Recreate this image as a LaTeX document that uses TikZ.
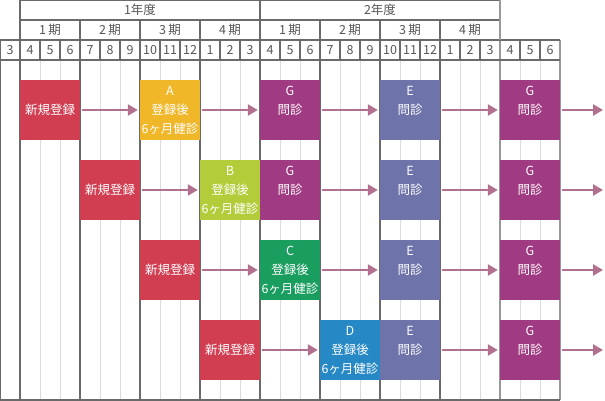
\documentclass[tikz,border=0pt]{standalone}
\usepackage{fontspec}
\setmainfont{Noto Sans CJK JP}
\usetikzlibrary{arrows.meta,positioning}
\usepackage{xcolor}

\definecolor{regred}{HTML}{D13E52}
\definecolor{ayellow}{HTML}{F0B729}
\definecolor{blime}{HTML}{B2CC3A}
\definecolor{cgreen}{HTML}{1A9E60}
\definecolor{dblue}{HTML}{2688C4}
\definecolor{epurple}{HTML}{6E74AA}
\definecolor{gpurple}{HTML}{A03A82}
\definecolor{flowline}{HTML}{B0708E}
\definecolor{gridline}{HTML}{6A6A6A}
\definecolor{headtext}{HTML}{555555}

\tikzset{
  visit/.style={minimum width=60pt, minimum height=60pt, inner sep=0pt, text=white, align=center,
    font=\fontsize{12.5}{19}\selectfont},
  headlbl/.style={text=headtext, inner sep=0pt, font=\fontsize{12.5}{14}\selectfont},
  flow/.style={draw=flowline, line width=2.5pt, -{Triangle[length=10pt,width=11pt]},
    shorten <=2pt, shorten >=2pt},
  major/.style={draw=gridline, line width=1.1pt},
  minor/.style={draw=black!14, line width=1pt}
}

\begin{document}
\begin{tikzpicture}[x=1pt, y=-1pt]
    \useasboundingbox (0,0) rectangle (605,401);

    % body lines
    \foreach \x in {40,60,100,120,160,180,220,240,280,300,340,360,400,420,460,480,520,540}
        \draw[minor] (\x,60) -- (\x,400);
    \foreach \x in {20,80,...,440}
        \draw[major] (\x,40) -- (\x,400);
    \draw[major] (0,40) -- (0,400);
    \draw[draw=black!40, line width=1.1pt] (500,40) -- (500,400);
    \draw[draw=black!40, line width=1.1pt] (560,40) -- (560,400);

    % header grid
    \draw[major] (20,0) -- (500,0);
    \draw[major] (20,20) -- (500,20);
    \draw[major] (0,40) -- (560,40);
    \draw[major] (0,60) -- (560,60);
    \draw[major] (0,400) -- (560,400);
    \draw[major] (20,0) -- (20,40);
    \draw[major] (260,0) -- (260,40);
    \draw[draw=black!40, line width=1.1pt] (500,0) -- (500,40);
    \foreach \x in {80,140,200,320,380,440}
        \draw[major] (\x,20) -- (\x,40);
    \foreach \x in {40,60,100,120,160,180,220,240,280,300,340,360,400,420,460,480,520,540}
        \draw[major] (\x,40) -- (\x,60);

    \node[headlbl] (year1) at (140,10) {1年度};
    \node[headlbl] (year2) at (380,10) {2年度};
    \foreach \q [count=\i from 0] in {1,2,3,4,1,2,3,4}
        \node[headlbl] (term\i) at (50+60*\i,30) {\q\,期};
    \foreach \m [count=\i from 0] in {3,4,5,6,7,8,9,10,11,12,1,2,3,4,5,6,7,8,9,10,11,12,1,2,3,4,5,6}
        \node[headlbl] (month\i) at (10+20*\i,50) {\m};

    % row 1
    \node[visit, fill=regred] (new1) at (50,110) {新規登録};
    \node[visit, fill=ayellow] (a) at (170,110) {A\\登録後\\6ヶ月健診};
    \node[visit, fill=gpurple] (g1) at (290,110) {G\\問診\\\mbox{}};
    \node[visit, fill=epurple] (e1) at (410,110) {E\\問診\\\mbox{}};
    \node[visit, fill=gpurple] (gg1) at (530,110) {G\\問診\\\mbox{}};
    \coordinate (out1) at (605,110);

    % row 2
    \node[visit, fill=regred] (new2) at (110,190) {新規登録};
    \node[visit, fill=blime] (b) at (230,190) {B\\登録後\\6ヶ月健診};
    \node[visit, fill=gpurple] (g2) at (290,190) {G\\問診\\\mbox{}};
    \node[visit, fill=epurple] (e2) at (410,190) {E\\問診\\\mbox{}};
    \node[visit, fill=gpurple] (gg2) at (530,190) {G\\問診\\\mbox{}};
    \coordinate (out2) at (605,190);

    % row 3
    \node[visit, fill=regred] (new3) at (170,270) {新規登録};
    \node[visit, fill=cgreen] (c) at (290,270) {C\\登録後\\6ヶ月健診};
    \node[visit, fill=epurple] (e3) at (410,270) {E\\問診\\\mbox{}};
    \node[visit, fill=gpurple] (gg3) at (530,270) {G\\問診\\\mbox{}};
    \coordinate (out3) at (605,270);

    % row 4
    \node[visit, fill=regred] (new4) at (230,350) {新規登録};
    \node[visit, fill=dblue] (d) at (350,350) {D\\登録後\\6ヶ月健診};
    \node[visit, fill=epurple] (e4) at (410,350) {E\\問診\\\mbox{}};
    \node[visit, fill=gpurple] (gg4) at (530,350) {G\\問診\\\mbox{}};
    \coordinate (out4) at (605,350);

    \draw[flow] (new1) -- (a);
    \draw[flow] (a) -- (g1);
    \draw[flow] (g1) -- (e1);
    \draw[flow] (e1) -- (gg1);
    \draw[flow] (gg1) -- (out1);

    \draw[flow] (new2) -- (b);
    \draw[flow] (g2) -- (e2);
    \draw[flow] (e2) -- (gg2);
    \draw[flow] (gg2) -- (out2);

    \draw[flow] (new3) -- (c);
    \draw[flow] (c) -- (e3);
    \draw[flow] (e3) -- (gg3);
    \draw[flow] (gg3) -- (out3);

    \draw[flow] (new4) -- (d);
    \draw[flow] (e4) -- (gg4);
    \draw[flow] (gg4) -- (out4);
\end{tikzpicture}
\end{document}
